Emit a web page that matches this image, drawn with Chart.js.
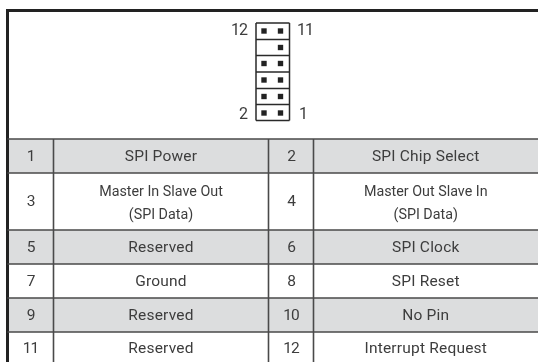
<!DOCTYPE html>
<html>
<head>
<meta charset="utf-8">
<style>
  html, body { margin: 0; padding: 0; background: #fff; }
  canvas { display: block; }
</style>
<script src="https://cdn.jsdelivr.net/npm/chart.js@4"></script>
</head>
<body>
<canvas id="pinChart" width="538" height="362"></canvas>
<script>
// table content, row by row
const oddPins = ['1', '3', '5', '7', '9', '11'];
const oddNames = ['SPI Power', ['Master In Slave Out', '(SPI Data)'], 'Reserved', 'Ground', 'Reserved', 'Reserved'];
const evenPins = ['2', '4', '6', '8', '10', '12'];
const evenNames = ['SPI Chip Select', ['Master Out Slave In', '(SPI Data)'], 'SPI Clock', 'SPI Reset', 'No Pin', 'Interrupt Request'];
const rowShaded = [true, false, true, false, true, false];

// table grid (last row runs off the bottom)
const rowEdges = [139, 173, 230, 264, 298, 332, 364];
const columnEdges = [7.5, 53.5, 268.5, 313.5, 538];
const headerTop = 10.5;

// connector drawing: pin rows from top to bottom
const pinColumns = [264, 280.5];
const pinRows = [31, 47.5, 63.5, 80, 96.5, 113];
const pinMissing = [[264, 47.5]];
const boxEdgesX = [256, 289.5];
const boxEdgesY = [23, 39.5, 55.5, 72, 88.5, 104.5, 120.5];
const cornerLabels = [
  { text: '12', x: 247, y: 31, align: 'right' },
  { text: '11', x: 297, y: 31, align: 'left' },
  { text: '2', x: 247, y: 115, align: 'right' },
  { text: '1', x: 299, y: 115, align: 'left' }
];

const textColor = '#3d3d3d';

// helper: a list of segments as one dataset, gaps between them
function segments(list) {
  const pts = [];
  list.forEach(s => {
    pts.push({ x: s[0], y: s[1] }, { x: s[2], y: s[3] }, { x: s[2], y: null });
  });
  return pts;
}

const gridLines = [];
rowEdges.slice(0, -1).forEach(y => gridLines.push([columnEdges[0], y, 538, y]));
columnEdges.slice(1, 4).forEach(x => gridLines.push([x, rowEdges[0], x, 362]));

const boxLines = [];
boxEdgesY.forEach(y => boxLines.push([boxEdgesX[0], y, boxEdgesX[1], y]));
boxEdgesX.forEach(x => boxLines.push([x, boxEdgesY[0], x, boxEdgesY[6]]));

const pins = [];
pinRows.forEach(y => pinColumns.forEach(x => {
  if (!pinMissing.some(m => m[0] === x && m[1] === y)) pins.push({ x: x, y: y });
}));

function lineSet(data, color, width) {
  return {
    data: data, showLine: true, borderColor: color, borderWidth: width,
    pointRadius: 0, spanGaps: false, clip: false
  };
}

// row shading goes under the datasets
const shadePlugin = {
  id: 'shade',
  beforeDatasetsDraw(chart) {
    const { ctx, scales: { x, y } } = chart;
    ctx.save();
    ctx.fillStyle = '#dcddde';
    rowShaded.forEach((on, i) => {
      if (!on) return;
      const top = y.getPixelForValue(rowEdges[i]);
      const bottom = y.getPixelForValue(rowEdges[i + 1]);
      ctx.fillRect(x.getPixelForValue(columnEdges[0]), top, x.getPixelForValue(538) - x.getPixelForValue(columnEdges[0]), bottom - top);
    });
    ctx.restore();
  }
};

// cell text and pin numbers
const textPlugin = {
  id: 'cellText',
  afterDatasetsDraw(chart) {
    const { ctx, scales: { x, y } } = chart;
    ctx.save();
    ctx.fillStyle = textColor;
    ctx.textBaseline = 'middle';

    function number(text, col, row) {
      ctx.font = '15.5px Roboto';
      ctx.letterSpacing = '-1px';
      ctx.textAlign = 'center';
      const cx = x.getPixelForValue((columnEdges[col] + columnEdges[col + 1]) / 2);
      ctx.fillText(text, cx, y.getPixelForValue((rowEdges[row] + rowEdges[row + 1]) / 2) + 1);
    }

    function name(text, col, row) {
      const cx = x.getPixelForValue((columnEdges[col] + columnEdges[col + 1]) / 2);
      const cy = y.getPixelForValue((rowEdges[row] + rowEdges[row + 1]) / 2);
      ctx.textAlign = 'center';
      if (Array.isArray(text)) {
        ctx.font = '14.3px Roboto';
        ctx.letterSpacing = '0px';
        ctx.fillText(text[0], cx, cy - 9);
        ctx.fillText(text[1], cx, cy + 13.5);
      } else {
        ctx.font = '15.5px Roboto';
        ctx.letterSpacing = '0.2px';
        ctx.fillText(text, cx, cy + 1);
      }
    }

    oddPins.forEach((t, i) => {
      number(t, 0, i);
      name(oddNames[i], 1, i);
      number(evenPins[i], 2, i);
      name(evenNames[i], 3, i);
    });

    ctx.font = '16px Roboto';
    ctx.letterSpacing = '-1px';
    cornerLabels.forEach(l => {
      ctx.textAlign = l.align;
      ctx.fillText(l.text, x.getPixelForValue(l.x), y.getPixelForValue(l.y));
    });
    ctx.restore();
  }
};

const chart = new Chart(document.getElementById('pinChart').getContext('2d'), {
  type: 'scatter',
  data: {
    datasets: [
      lineSet(segments(gridLines), '#4a4a4a', 1.6),
      lineSet(segments([[6, headerTop, 538, headerTop]]), '#222222', 3),
      lineSet(segments([[columnEdges[0], 9, columnEdges[0], 362]]), '#222222', 3),
      lineSet(segments(boxLines), '#2a2a2a', 1.5),
      {
        data: pins, pointStyle: 'rect', pointRadius: 3.8,
        pointBackgroundColor: '#222222', pointBorderWidth: 0, showLine: false
      }
    ]
  },
  plugins: [shadePlugin, textPlugin],
  options: {
    responsive: false,
    animation: false,
    layout: { padding: 0, autoPadding: false },
    plugins: { legend: { display: false }, tooltip: { enabled: false } },
    scales: {
      x: { type: 'linear', min: 0, max: 538, display: false },
      y: { type: 'linear', min: 0, max: 362, reverse: true, display: false }
    }
  }
});
</script>
</body>
</html>
